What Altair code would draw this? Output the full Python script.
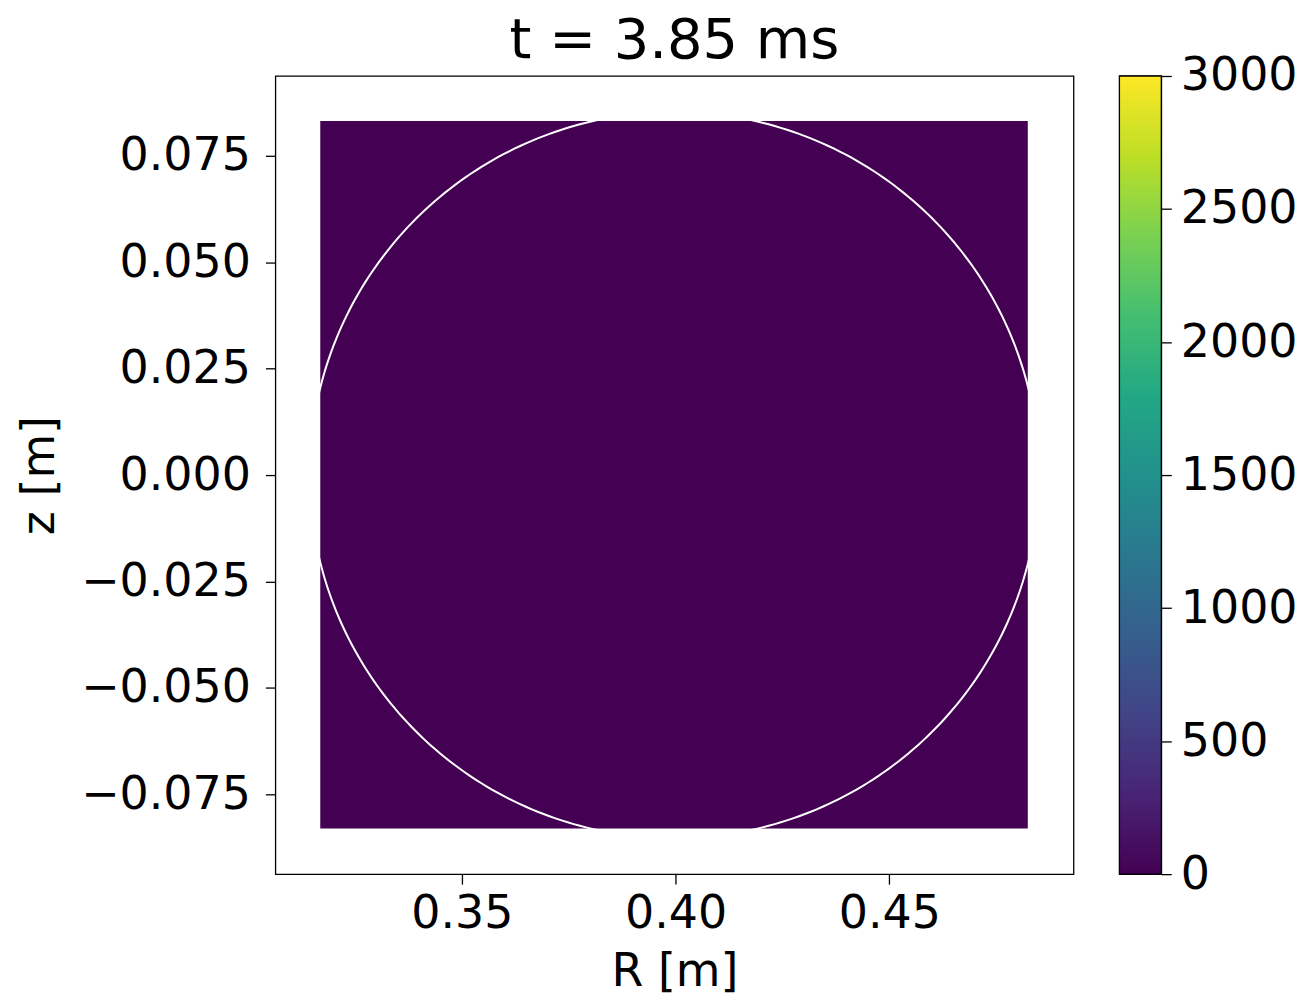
import altair as alt
import numpy as np
import pandas as pd

# --- data ---
title_text = "t = 3.85 ms"
x_ticks = [0.35, 0.40, 0.45]
y_ticks = [-0.075, -0.050, -0.025, 0.000, 0.025, 0.050, 0.075]
cbar_ticks = [0, 500, 1000, 1500, 2000, 2500, 3000]
cbar_domain = [0, 3000]
x_domain = [0.3064, 0.4931]
y_domain = [-0.09375, 0.09375]

# image extent (all values 0)
img_R = [0.3169]
img_R2 = [0.4824]
img_z = [-0.0830]
img_z2 = [0.0832]
img_value = [0]

# boundary circle
circle_R0 = 0.3997
circle_z0 = 0.0
circle_r = 0.0853

viridis = ["#440154", "#482475", "#414487", "#355f8d", "#2a788e", "#21918c",
           "#22a884", "#44bf70", "#7ad151", "#bddf26", "#fde725"]

img_df = pd.DataFrame({"R": img_R, "R2": img_R2, "z": img_z, "z2": img_z2, "v": img_value})
th = np.linspace(0, 2 * np.pi, 361)
circ_df = pd.DataFrame({"R": circle_R0 + circle_r * np.cos(th),
                        "z": circle_z0 + circle_r * np.sin(th),
                        "i": np.arange(len(th))})

FS = 46
xs = alt.Scale(domain=x_domain, nice=False, zero=False)
ys = alt.Scale(domain=y_domain, nice=False, zero=False)

x_axis = alt.Axis(values=x_ticks, format=".2f", title="R [m]", grid=False, domain=False,
                  tickSize=10, tickColor="black", tickWidth=1.3, labelFontSize=FS,
                  titleFontSize=FS, titleFontWeight="normal", labelPadding=7, titlePadding=14,
                  labelColor="black", titleColor="black")
y_axis = alt.Axis(values=y_ticks, format=".3f", title="z [m]", grid=False, domain=False,
                  tickSize=10, tickColor="black", tickWidth=1.3, labelFontSize=FS,
                  titleFontSize=FS, titleFontWeight="normal", labelPadding=15, titlePadding=17,
                  labelColor="black", titleColor="black")

img = alt.Chart(img_df).mark_rect().encode(
    x=alt.X("R:Q", scale=xs, axis=x_axis),
    x2="R2:Q",
    y=alt.Y("z:Q", scale=ys, axis=y_axis),
    y2="z2:Q",
    color=alt.Color("v:Q", scale=alt.Scale(scheme="viridis", domain=cbar_domain), legend=None),
)

circ = alt.Chart(circ_df).mark_line(color="white", strokeWidth=2).encode(
    x=alt.X("R:Q", scale=xs),
    y=alt.Y("z:Q", scale=ys),
    order="i:Q",
)

main = alt.layer(img, circ).properties(
    width=800, height=800,
    title=alt.Title(title_text, fontSize=56, fontWeight="normal", color="black", offset=6),
)

grad = alt.LinearGradient(
    gradient="linear", x1=0, x2=0, y1=1, y2=0,
    stops=[alt.GradientStop(offset=i / (len(viridis) - 1), color=c) for i, c in enumerate(viridis)],
)
cbar_df = pd.DataFrame({"lo": [cbar_domain[0]], "hi": [cbar_domain[1]]})
cbar = alt.Chart(cbar_df).mark_rect(color=grad, stroke="black", strokeWidth=1.3).encode(
    y=alt.Y("lo:Q", scale=alt.Scale(domain=cbar_domain, nice=False),
            axis=alt.Axis(orient="right", values=cbar_ticks, format="d", title=None, grid=False,
                          domain=False, tickSize=10, tickColor="black", tickWidth=1.3,
                          labelFontSize=FS, labelPadding=9, labelColor="black")),
    y2="hi:Q",
).properties(width=42, height=800)

chart = alt.hconcat(main, cbar, spacing=43).properties(
    padding={"left": 8, "top": 3, "right": 0, "bottom": 0},
).configure(
    font="DejaVu Sans",
).configure_view(stroke="black", strokeWidth=1.3)

chart.save("out.html", embed_options={"renderer": "svg", "actions": False})
